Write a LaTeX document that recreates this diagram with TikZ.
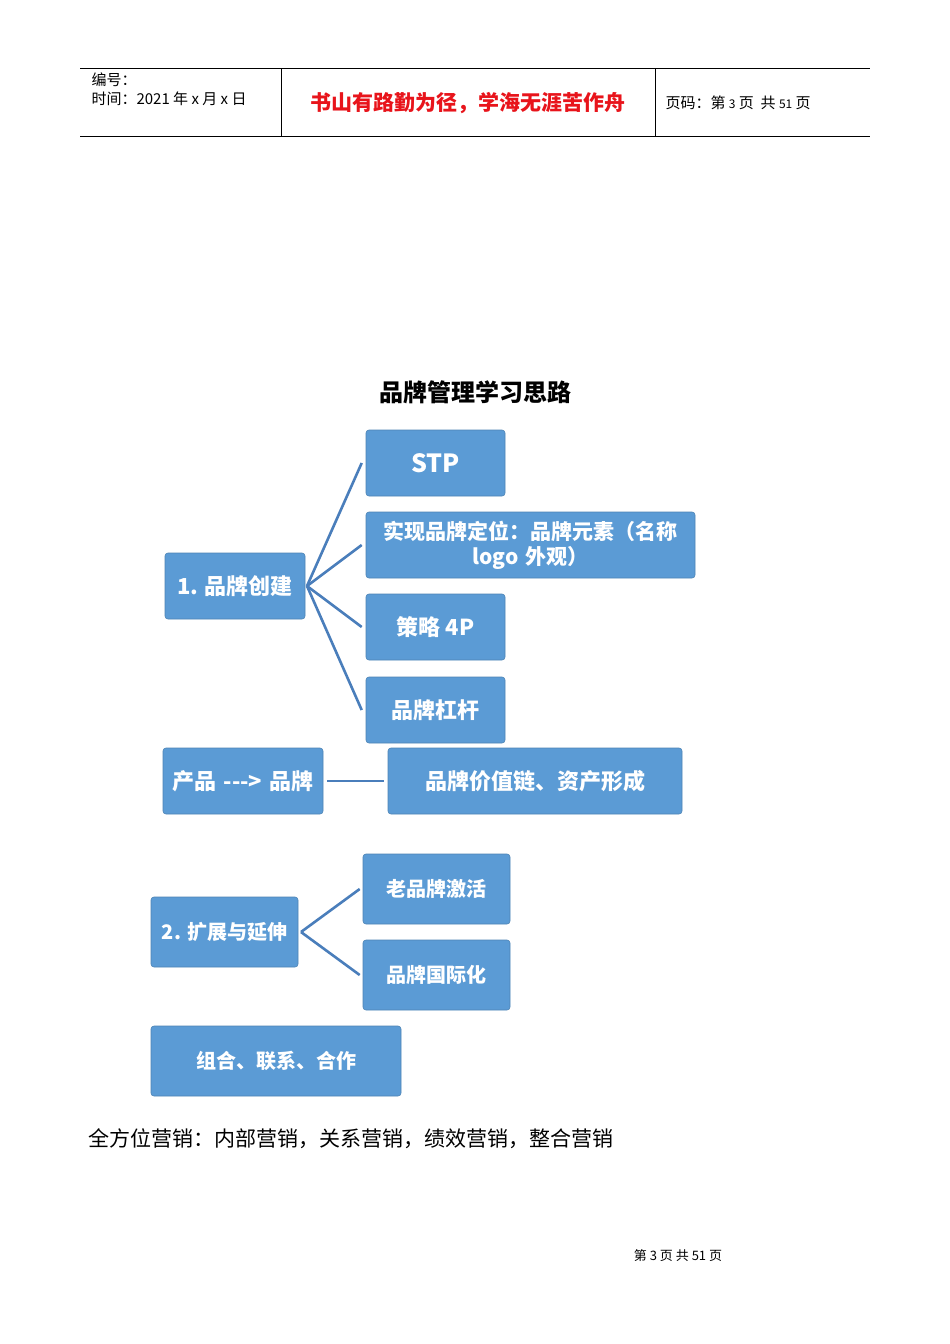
\documentclass[tikz,border=0pt]{standalone}
\usepackage{fontspec}
\setmainfont{Noto Sans CJK SC}
\newfontfamily\cjk{Noto Sans CJK SC}
\newfontfamily\ser{Noto Sans CJK SC}
\definecolor{boxc}{HTML}{5B9BD5}
\definecolor{linec}{HTML}{4A7EBB}
\definecolor{redc}{HTML}{E8141B}
\tikzset{bx/.style={fill=boxc,draw=boxc!85!black,line width=0.6pt,rounded corners=3pt,text=white,font=\cjk\bfseries\fontsize{22}{24}\selectfont,align=center,inner sep=0pt},
ln/.style={linec,line width=2.6pt}}
\begin{document}
\begin{tikzpicture}[x=1pt,y=-1pt]
\useasboundingbox (0,0) rectangle (950,1344);
\fill[white] (0,0) rectangle (950,1344);
% header
\draw[line width=0.8pt] (80,68) -- (870,68);
\draw[line width=0.8pt] (80,136) -- (870,136);
\draw[line width=0.8pt] (281,68) -- (281,136);
\draw[line width=0.8pt] (655,68) -- (655,136);
\node[anchor=west,font=\cjk\fontsize{15}{16}\selectfont] (h1) at (88,80) {编号：};
\node[anchor=west,font=\cjk\fontsize{15}{16}\selectfont] (h2) at (88,99) {时间：2021 年 x 月 x 日};
\node[font=\cjk\bfseries\fontsize{21}{22}\selectfont,text=redc] (h3) at (468,103) {书山有路勤为径，学海无涯苦作舟};
\node[anchor=west,font=\cjk\fontsize{15}{16}\selectfont] (h4) at (662,103) {页码：第 {\fontsize{12}{12}\selectfont 3} 页\ \ 共 {\fontsize{12}{12}\selectfont 51} 页};
% title
\node[font=\cjk\bfseries\fontsize{24}{26}\selectfont] (t) at (475,392) {品牌管理学习思路};
% boxes
\node[bx,minimum width=139,minimum height=66,font=\cjk\bfseries\fontsize{25}{26}\selectfont] (stp) at (435.5,463) {STP};
\node[bx,minimum width=329,minimum height=66,text width=325,font=\cjk\bfseries\fontsize{21}{25}\selectfont] (pos) at (530.5,545) {实现品牌定位：品牌元素（名称 logo 外观）};
\node[bx,minimum width=139,minimum height=66] (s4p) at (435.5,627) {策略 4P};
\node[bx,minimum width=139,minimum height=66] (lev) at (435.5,710) {品牌杠杆};
\node[bx,minimum width=140,minimum height=66] (b1) at (235,586) {1. 品牌创建};
\node[bx,minimum width=160,minimum height=66,text width=150,font=\cjk\bfseries\fontsize{22}{29}\selectfont] (pp) at (243,781) {产品 ---> 品牌};
\node[bx,minimum width=294,minimum height=66] (val) at (535,781) {品牌价值链、资产形成};
\node[bx,minimum width=147,minimum height=70,font=\cjk\bfseries\fontsize{20}{22}\selectfont] (old) at (436.5,889) {老品牌激活};
\node[bx,minimum width=147,minimum height=70,font=\cjk\bfseries\fontsize{20}{22}\selectfont] (intl) at (436.5,975) {品牌国际化};
\node[bx,minimum width=147,minimum height=70,font=\cjk\bfseries\fontsize{20}{22}\selectfont] (b2) at (224.5,932) {2. 扩展与延伸};
\node[bx,minimum width=250,minimum height=70,font=\cjk\bfseries\fontsize{20}{22}\selectfont] (comb) at (276,1061) {组合、联系、合作};
% connectors
\coordinate (j1) at (307,586);
\draw[ln] (j1) -- ([xshift=-4pt]stp.west);
\draw[ln] (j1) -- ([xshift=-4pt]pos.west);
\draw[ln] (j1) -- ([xshift=-4pt]s4p.west);
\draw[ln] (j1) -- ([xshift=-4pt]lev.west);
\draw[ln] ([xshift=4pt]pp.east) -- ([xshift=-4pt]val.east -| val.west);
\coordinate (j2) at (301,932);
\draw[ln] (j2) -- ([xshift=-3pt]old.west);
\draw[ln] (j2) -- ([xshift=-3pt]intl.west);
% bottom text
\node[anchor=west,font=\cjk\fontsize{21}{22}\selectfont] (bt) at (85,1139) {全方位营销：内部营销，关系营销，绩效营销，整合营销};
\node[font=\fontsize{13}{14}\selectfont] (ft) at (678,1256) {第 3 页 共 51 页};
\end{tikzpicture}
\end{document}
